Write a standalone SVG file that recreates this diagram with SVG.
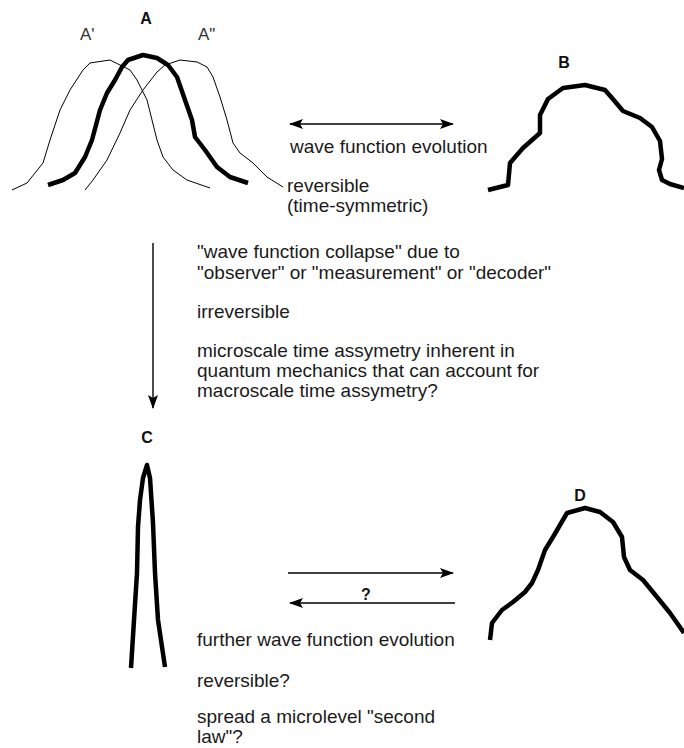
<svg xmlns="http://www.w3.org/2000/svg" width="684" height="748" viewBox="0 0 684 748">
<style>
  .t { font-family: "Liberation Sans", Arial, sans-serif; font-size: 19px; fill: #1a1a1a; }
  .lbl { font-family: "Liberation Sans", Arial, sans-serif; font-size: 16px; font-weight: bold; fill: #111; text-anchor: middle; }
  .sub { font-family: "Liberation Sans", Arial, sans-serif; font-size: 17px; fill: #333; }
  .thick { fill: none; stroke: #000; stroke-width: 4.5; stroke-linejoin: round; stroke-linecap: butt; }
  .thin { fill: none; stroke: #000; stroke-width: 1; stroke-linejoin: round; }
  .conn { fill: none; stroke: #000; stroke-width: 1.4; }
</style>
<defs>
  <marker id="ah" viewBox="0 0 14 10" refX="13" refY="5" markerWidth="14" markerHeight="10" markerUnits="userSpaceOnUse" orient="auto-start-reverse">
    <path d="M0,0 L14,5 L0,10 L3,5 Z" fill="#000"/>
  </marker>
</defs>
<rect width="684" height="748" fill="#fff"/>

<g id="nodeA">
  <polyline class="thin" points="12,190 27,183 43,163 50,140 60,110 70,90 83,70 90,63 110,60 120,65 130,70 137,80 147,100 152,120 157,140 163,157 173,170 187,180 210,188"/>
  <polyline class="thin" points="85,190 93,180 107,160 120,133 130,110 143,90 157,72 165,65 180,60 197,62 207,67 213,77 220,97 227,120 233,143 240,153 253,163 267,177 283,187"/>
  <polyline class="thick" points="48,185 63,180 75,173 85,157 92,140 100,110 107,93 115,80 122,67 128,60 143,55 157,58 168,65 177,77 185,100 192,120 195,137 205,150 217,167 230,177 248,183"/>
  <text class="lbl" x="146" y="24">A</text>
  <text class="sub" x="80" y="40">A'</text>
  <text class="sub" x="198" y="40">A"</text>
</g>

<g id="nodeB">
  <polyline class="thick" points="488,190 508,185 510,163 523,148 540,133 540,115 548,99 563,88 585,85 605,90 612,98 623,111 640,118 652,127 660,141 662,159 659,170 662,180 670,184 684,188"/>
  <text class="lbl" x="564" y="68">B</text>
</g>

<g id="nodeC">
  <polyline class="thick" points="131,668 134,620 137,573 138,527 140,500 143,478 147,465 150,478 153,523 155,573 158,620 165,667"/>
  <text class="lbl" x="147" y="443">C</text>
</g>

<g id="nodeD">
  <polyline class="thick" points="490,640 492,623 502,610 513,602 525,592 532,583 538,570 545,550 553,537 560,525 567,513 585,508 600,512 613,522 622,537 624,557 630,570 643,580 657,597 670,613 684,633"/>
  <text class="lbl" x="580" y="501">D</text>
</g>

<g id="connectors">
  <line class="conn" x1="290" y1="124" x2="453" y2="124" marker-start="url(#ah)" marker-end="url(#ah)"/>
  <line class="conn" x1="153" y1="243" x2="153" y2="408" marker-end="url(#ah)"/>
  <line class="conn" x1="288" y1="573" x2="453" y2="573" marker-end="url(#ah)"/>
  <line class="conn" x1="455" y1="603" x2="290" y2="603" marker-end="url(#ah)"/>
</g>

<g id="labels">
  <text class="t" x="290" y="153">wave function evolution</text>
  <text class="t" x="287" y="192">reversible</text>
  <text class="t" x="287" y="212">(time-symmetric)</text>
  <text class="t" x="197" y="258">"wave function collapse" due to</text>
  <text class="t" x="197" y="279">"observer" or "measurement" or "decoder"</text>
  <text class="t" x="197" y="318">irreversible</text>
  <text class="t" x="197" y="357">microscale time assymetry inherent in</text>
  <text class="t" x="197" y="377">quantum mechanics that can account for</text>
  <text class="t" x="197" y="397">macroscale time assymetry?</text>
  <text class="lbl" x="366" y="600">?</text>
  <text class="t" x="197" y="646">further wave function evolution</text>
  <text class="t" x="197" y="687">reversible?</text>
  <text class="t" x="197" y="723">spread a microlevel "second</text>
  <text class="t" x="197" y="743">law"?</text>
</g>
</svg>
